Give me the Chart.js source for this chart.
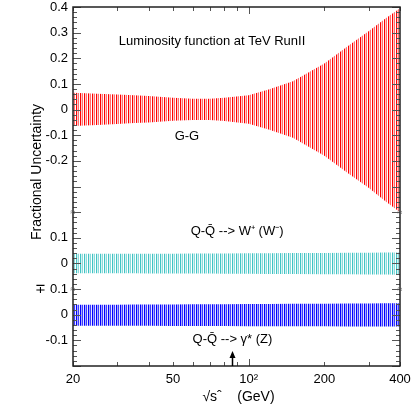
<!DOCTYPE html>
<html>
<head>
<meta charset="utf-8">
<script src="https://cdn.jsdelivr.net/npm/chart.js@4/dist/chart.umd.min.js"></script>
<style>
  html, body { margin: 0; padding: 0; background: #fff; }
  #wrap { width: 411px; height: 411px; }
</style>
</head>
<body>
<div id="wrap"><canvas id="lumi-chart" width="411" height="411"></canvas></div>
<script>
// sqrt(s-hat) in GeV where the envelopes were read
const energies = [20, 25, 30, 35, 40, 50, 60, 70, 80, 100, 120, 150, 200, 250, 300, 350, 400];

// G-G fractional uncertainty band
const ggUpper = [0.066, 0.062, 0.059, 0.056, 0.053, 0.046, 0.042, 0.042, 0.046, 0.056, 0.078, 0.110, 0.180, 0.250, 0.305, 0.355, 0.395];
const ggLower = [-0.064, -0.060, -0.056, -0.052, -0.050, -0.044, -0.041, -0.041, -0.045, -0.055, -0.078, -0.110, -0.180, -0.250, -0.305, -0.358, -0.400];

// Q-Qbar -> W+ (W-)
const wUpper = [0.038, 0.038, 0.038, 0.038, 0.038, 0.038, 0.039, 0.039, 0.039, 0.040, 0.040, 0.041, 0.041, 0.042, 0.042, 0.043, 0.043];
const wLower = [-0.038, -0.038, -0.038, -0.038, -0.039, -0.039, -0.039, -0.039, -0.040, -0.040, -0.041, -0.041, -0.042, -0.042, -0.043, -0.043, -0.044];

// Q-Qbar -> gamma* (Z)
const zUpper = [0.039, 0.039, 0.039, 0.040, 0.040, 0.040, 0.041, 0.041, 0.041, 0.042, 0.042, 0.043, 0.043, 0.044, 0.044, 0.045, 0.045];
const zLower = [-0.043, -0.043, -0.043, -0.043, -0.043, -0.044, -0.044, -0.044, -0.044, -0.045, -0.045, -0.045, -0.045, -0.046, -0.046, -0.046, -0.046];

// tick labels
const xTickValues = [20, 50, 100, 200, 400];
const xTickLabels = ['20', '50', '10\u00B2', '200', '400'];
const xMinorTicks = [30, 40, 60, 70, 80, 90, 300];
const yTickValues = [-1.0, -0.9, -0.8, -0.7, -0.6, -0.5, -0.4, -0.3, -0.2, -0.1, 0, 0.1, 0.2, 0.3, 0.4];
const yTickLabels = ['', '-0.1', '0', '\u2213 0.1', '0', '0.1', '', '', '-0.2', '-0.1', '0', '0.1', '0.2', '0.3', '0.4'];
const yBreaks = [-0.4, -0.7];

// vertical offset of each panel on the shared axis
const offsetGG = 0;
const offsetW = -0.6;
const offsetZ = -0.8;

const arrowEnergy = 86;

function stripes(cols) {
    const c = document.createElement('canvas');
    c.width = cols.length; c.height = 4;
    const g = c.getContext('2d');
    cols.forEach((col, i) => { g.fillStyle = col; g.fillRect(i, 0, 1, 4); });
    return g.createPattern(c, 'repeat');
}

const pts = (vals, off) => vals.map((v, i) => ({ x: energies[i], y: v + off }));
const flat = (off) => [{ x: 20, y: off }, { x: 400, y: off }];

function band(upper, lower, off, pattern) {
    return [
        { data: pts(upper, off), fill: '+1', backgroundColor: pattern, borderWidth: 0, pointRadius: 0, tension: 0 },
        { data: pts(lower, off), fill: false, borderWidth: 0, pointRadius: 0, tension: 0 }
    ];
}

const font = "'Liberation Sans', Arial, sans-serif";

const decorations = {
    id: 'decorations',
    afterDraw(chart) {
        const { ctx, chartArea: a, scales: { x, y } } = chart;
        ctx.save();
        // minor / major ticks, pointing inward
        ctx.strokeStyle = '#555';
        ctx.lineWidth = 1;
        for (let k = -50; k <= 20; k++) {
            const v = k / 50;
            const py = Math.round(y.getPixelForValue(v)) + 0.5;
            const len = (k % 5 === 0) ? 8 : 4;
            ctx.beginPath();
            ctx.moveTo(a.left, py); ctx.lineTo(a.left + len, py);
            ctx.moveTo(a.right, py); ctx.lineTo(a.right - len, py);
            ctx.stroke();
        }
        xTickValues.concat(xMinorTicks).forEach(v => {
            const px = Math.round(x.getPixelForValue(v)) + 0.5;
            const len = (v === 100) ? 7 : 4;
            ctx.beginPath();
            ctx.moveTo(px, a.bottom); ctx.lineTo(px, a.bottom - len);
            ctx.moveTo(px, a.top); ctx.lineTo(px, a.top + len);
            ctx.stroke();
        });
        // frame
        ctx.strokeStyle = '#222';
        ctx.lineWidth = 1.5;
        ctx.strokeRect(a.left, a.top, a.right - a.left, a.bottom - a.top);
        // axis breaks
        ctx.fillStyle = '#555';
        ctx.font = '9px ' + font;
        ctx.textAlign = 'center';
        ctx.textBaseline = 'middle';
        yBreaks.forEach(v => {
            const py = y.getPixelForValue(v);
            ctx.fillText('\u2248', a.left, py);
            ctx.fillText('\u2248', a.right, py);
        });
        // labels
        ctx.fillStyle = '#000';
        ctx.font = '13px ' + font;
        ctx.fillText('Luminosity function at TeV RunII', x.getPixelForValue(71.5), y.getPixelForValue(0.265));
        ctx.fillText('G-G', x.getPixelForValue(56.8), y.getPixelForValue(-0.105));
        ctx.fillText('Q-Q\u0304 --> W\u207A (W\u207B)', x.getPixelForValue(89.9), y.getPixelForValue(-0.475));
        ctx.fillText('Q-Q\u0304 --> \u03B3* (Z)', x.getPixelForValue(86.2), y.getPixelForValue(-0.895));
        // arrow
        const ax = Math.round(x.getPixelForValue(arrowEnergy)) + 0.5;
        ctx.strokeStyle = '#000';
        ctx.lineWidth = 1.5;
        ctx.beginPath();
        ctx.moveTo(ax, a.bottom); ctx.lineTo(ax, a.bottom - 10);
        ctx.stroke();
        ctx.beginPath();
        ctx.moveTo(ax, a.bottom - 15); ctx.lineTo(ax - 3, a.bottom - 8); ctx.lineTo(ax + 3, a.bottom - 8);
        ctx.closePath(); ctx.fill();
        // axis titles
        ctx.font = '14px ' + font;
        ctx.fillText('\u221As\u02C6    (GeV)', (a.left + a.right) / 2 + 2, 397);
        ctx.translate(37, 172);
        ctx.rotate(-Math.PI / 2);
        ctx.fillText('Fractional Uncertainty', 0, 0);
        ctx.restore();
    }
};

const datasets = [
    ...band(ggUpper, ggLower, offsetGG, stripes(['#ff0000', '#ffc8c8', '#ff7070', '#ffffff'])),
    ...band(wUpper, wLower, offsetW, stripes(['#40c4c4', '#d4f2f2', '#8cdada', '#ffffff'])),
    ...band(zUpper, zLower, offsetZ, stripes(['#0000ff', '#a8a8ff', '#3c3cff', '#e4e4ff'])),
    { data: flat(offsetGG), borderColor: '#3a3a3a', borderWidth: 1.5, pointRadius: 0, fill: false },
    { data: flat(offsetW), borderColor: '#4d8c8c', borderWidth: 1.5, pointRadius: 0, fill: false },
    { data: flat(offsetZ), borderColor: '#111', borderWidth: 1.5, pointRadius: 0, fill: false }
];

new Chart(document.getElementById('lumi-chart').getContext('2d'), {
    type: 'line',
    data: { datasets },
    options: {
        responsive: false,
        animation: false,
        layout: { padding: { top: 7, right: 11, left: 0, bottom: 0 } },
        plugins: { legend: { display: false }, tooltip: { enabled: false } },
        scales: {
            x: {
                type: 'logarithmic',
                min: 20,
                max: 400,
                grid: { display: false, drawTicks: false },
                border: { display: false },
                afterBuildTicks: s => { s.ticks = xTickValues.map(v => ({ value: v })); },
                afterFit: s => { s.height = 45; s.paddingLeft = 0; s.paddingRight = 0; },
                ticks: {
                    autoSkip: false,
                    maxRotation: 0,
                    padding: 6,
                    color: '#000',
                    font: { family: font, size: 13 },
                    callback: (v, i) => xTickLabels[i]
                }
            },
            y: {
                type: 'linear',
                min: -1.0,
                max: 0.4,
                grid: { display: false, drawTicks: false },
                border: { display: false },
                afterBuildTicks: s => { s.ticks = yTickValues.map(v => ({ value: v })); },
                afterFit: s => { s.width = 73; s.paddingTop = 0; s.paddingBottom = 0; },
                ticks: {
                    autoSkip: false,
                    padding: 5,
                    color: '#000',
                    font: { family: font, size: 13 },
                    callback: (v, i) => yTickLabels[i]
                }
            }
        }
    },
    plugins: [decorations]
});
</script>
</body>
</html>
